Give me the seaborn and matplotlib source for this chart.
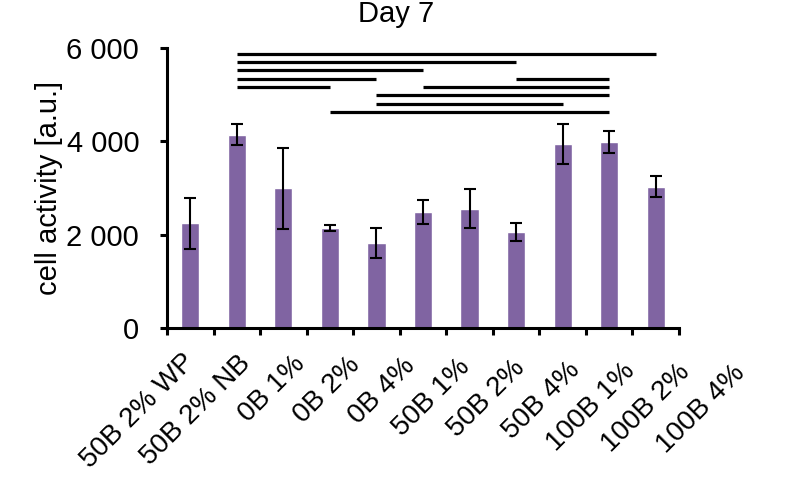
import numpy as np
import pandas as pd
import seaborn as sns
from matplotlib import pyplot as plt
from matplotlib.ticker import FuncFormatter, FixedLocator
from matplotlib.transforms import ScaledTranslation

# data
groups = ['50B 2% WP', '50B 2% NB', '0B 1%', '0B 2%', '0B 4%', '50B 1%',
          '50B 2%', '50B 4%', '100B 1%', '100B 2%', '100B 4%']
activity = [2250, 4140, 3000, 2150, 1820, 2500, 2560, 2060, 3945, 3995, 3035]
activity_err = [550, 225, 870, 60, 320, 255, 420, 195, 420, 240, 225]

# significance brackets: (from group, to group, stacking level)
sig_start = [3, 4, 4, 5, 1, 7, 1, 1, 1, 1]
sig_end = [9, 8, 9, 9, 3, 9, 4, 5, 7, 10]
sig_level = [0, 1, 2, 3, 3, 4, 4, 5, 6, 7]

sns.set_theme(style='white')
plt.rcParams['font.family'] = ['Liberation Sans', 'DejaVu Sans']

df = pd.DataFrame({'group': groups, 'activity': activity})

fig = plt.figure(figsize=(7.93, 4.98), dpi=100)
ax = fig.add_axes([0.2106, 0.3404, 0.6456, 0.5632])

sns.barplot(data=df, x='group', y='activity', color='#8064A2', saturation=1,
            width=0.39, errorbar=None, ax=ax)
ax.errorbar(np.arange(len(groups)), activity, yerr=activity_err, fmt='none',
            ecolor='black', elinewidth=1.5, capsize=4.3, capthick=1.5)

# significance lines
base, step = 4630, 178
for a, b, lvl in zip(sig_start, sig_end, sig_level):
    ax.hlines(base + lvl * step, a, b, color='black', lw=2.3)

ax.set_xlim(-0.5, len(groups) - 0.5)
ax.set_ylim(0, 6000)
ax.set_yticks([0, 2000, 4000, 6000])
ax.yaxis.set_major_formatter(FuncFormatter(lambda v, p: f'{int(v):,}'.replace(',', ' ')))

ax.xaxis.set_minor_locator(FixedLocator(np.arange(-0.5, len(groups), 1.0)))
ax.tick_params(axis='x', which='major', length=0, labelbottom=False)
ax.tick_params(axis='x', which='minor', length=5, width=2.2, color='black', bottom=True, direction='out')
ax.tick_params(axis='y', length=5, width=2.2, color='black', left=True, direction='out',
               labelsize=21, pad=15, labelcolor='black')

# category labels, spread a bit wider than the bars like in the original
for i, g in enumerate(groups):
    off = ScaledTranslation((1 + 8.4 * i) / 100, -(29.5 + 1.1 * i) / 100, fig.dpi_scale_trans)
    ax.text(i, 0, g, transform=ax.get_xaxis_transform() + off, rotation=45,
            rotation_mode='anchor', ha='right', va='center', fontsize=20, color='black')

for s in ['top', 'right']:
    ax.spines[s].set_visible(False)
for s in ['left', 'bottom']:
    ax.spines[s].set_color('black')
    ax.spines[s].set_linewidth(2.2)

ax.set_xlabel('')
ax.set_ylabel('cell activity [a.u.]', fontsize=21, labelpad=2.5, color='black')
fig.text(0.5, 1 - 21.7 / 498, 'Day 7', ha='center', va='baseline', fontsize=21, color='black')

fig.savefig('out.png', dpi=100)
